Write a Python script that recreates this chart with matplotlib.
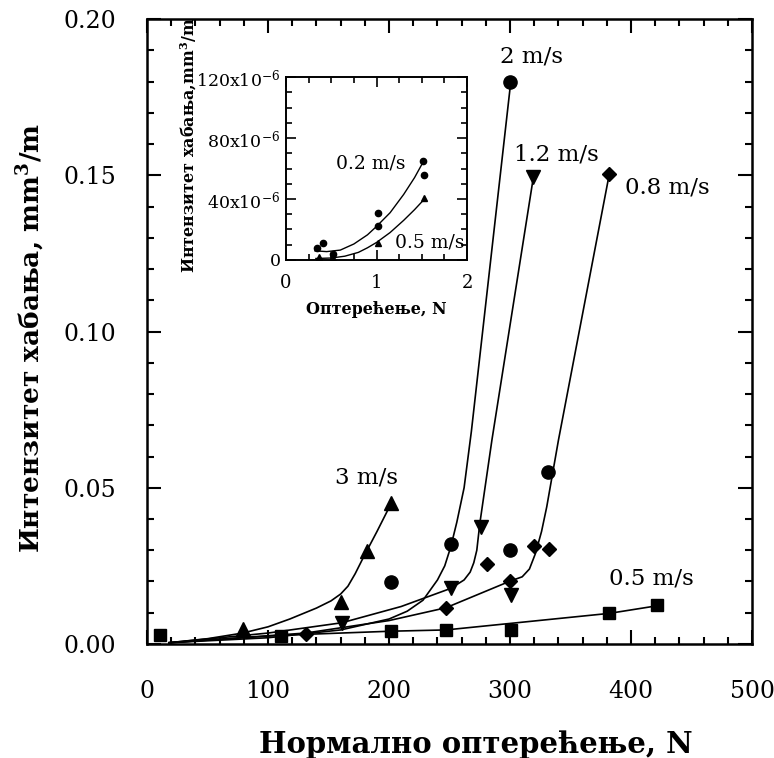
import matplotlib
matplotlib.use("Agg")
import matplotlib.pyplot as plt
from matplotlib.ticker import MultipleLocator, FixedLocator

plt.rcParams["font.family"] = ["DejaVu Serif"]
plt.rcParams["mathtext.fontset"] = "dejavuserif"

# --- main chart: measured points (load N, wear rate mm3/m) ---
sq_x = [11, 111, 202, 247, 301, 382, 421]           # 0.5 m/s
sq_y = [0.0029, 0.0026, 0.0042, 0.0045, 0.0045, 0.0098, 0.0125]
tri_x = [79, 160, 182, 202]                          # 3 m/s
tri_y = [0.0047, 0.0135, 0.0298, 0.0452]
circ_x = [202, 251, 300, 300, 331]                   # 2 m/s
circ_y = [0.0199, 0.0321, 0.0301, 0.180, 0.0549]
itri_x = [161, 251, 276, 301, 319]                   # 1.2 m/s
itri_y = [0.0066, 0.0178, 0.0375, 0.0157, 0.1495]
dia_x = [131, 247, 281, 300, 320, 332, 382]          # 0.8 m/s
dia_y = [0.0031, 0.0116, 0.0255, 0.0202, 0.0314, 0.0303, 0.1504]

# fitted curves
fit05_x = [18, 111, 202, 247, 382, 421]
fit05_y = [0.0004, 0.0028, 0.0041, 0.0045, 0.0098, 0.0122]
fit3_x = [18, 50, 79, 100, 118, 140, 152, 160, 166, 172, 179, 190, 202]
fit3_y = [0.0004, 0.0017, 0.0035, 0.0055, 0.0080, 0.0115, 0.0138, 0.0160, 0.0185, 0.0225, 0.0279, 0.0360, 0.0452]
fit2_x = [18, 100, 160, 200, 215, 228, 240, 246, 251, 256, 262, 268, 300.6]
fit2_y = [0.0004, 0.0020, 0.0045, 0.0080, 0.0105, 0.0140, 0.0205, 0.0250, 0.0311, 0.0390, 0.0500, 0.0680, 0.180]
fit12_x = [18, 100, 161, 210, 251, 262, 267, 270, 272.5, 275, 285, 319.3]
fit12_y = [0.0004, 0.0035, 0.0068, 0.0120, 0.0178, 0.0205, 0.0230, 0.0260, 0.0300, 0.0386, 0.0653, 0.1495]
fit08_x = [18, 131, 200, 247, 300.5, 310, 316, 321, 326, 330.3, 340, 382]
fit08_y = [0.0004, 0.0035, 0.0075, 0.0116, 0.0202, 0.0215, 0.0240, 0.0290, 0.0360, 0.0439, 0.0653, 0.1504]

# --- inset: load N, wear rate mm3/m (x1e-6) ---
in_c_x = [0.34, 0.41, 0.52, 1.02, 1.02, 1.51, 1.53]   # 0.2 m/s
in_c_y = [7.7, 11.4, 3.7, 31.0, 22.5, 65.0, 56.0]
in_t_x = [0.37, 0.52, 1.02, 1.53]                      # 0.5 m/s
in_t_y = [1.8, 1.5, 11.4, 40.4]
in_fc_x = [0.32, 0.45, 0.6, 0.75, 0.9, 1.0, 1.15, 1.3, 1.42, 1.51]
in_fc_y = [6.0, 5.5, 6.5, 10.5, 16.5, 22.0, 31.0, 43.0, 54.0, 63.7]
in_ft_x = [0.33, 0.5, 0.65, 0.8, 0.9, 1.0, 1.15, 1.3, 1.42, 1.53]
in_ft_y = [1.0, 1.3, 2.5, 5.0, 8.0, 11.5, 18.0, 26.0, 33.0, 40.0]

fig = plt.figure(figsize=(7.74, 7.58), dpi=100)
ax = fig.add_axes([0.19, 0.1504, 0.7817, 0.8245])

lw = 1.2
ax.plot(fit05_x, fit05_y, color="black", lw=lw)
ax.plot(fit3_x, fit3_y, color="black", lw=lw)
ax.plot(fit2_x, fit2_y, color="black", lw=lw)
ax.plot(fit12_x, fit12_y, color="black", lw=lw)
ax.plot(fit08_x, fit08_y, color="black", lw=lw)

ms = 9.5
ax.plot(sq_x, sq_y, "s", color="black", ms=ms - 0.5, ls="none")
ax.plot(tri_x, tri_y, "^", color="black", ms=ms, ls="none")
ax.plot(circ_x, circ_y, "o", color="black", ms=ms, ls="none")
ax.plot(itri_x, itri_y, "v", color="black", ms=ms, ls="none")
ax.plot(dia_x, dia_y, "D", color="black", ms=ms - 2, ls="none")

lab_fs = 16.5
ax.text(318, 0.188, "2 m/s", ha="center", va="center", fontsize=lab_fs)
ax.text(338, 0.1568, "1.2 m/s", ha="center", va="center", fontsize=lab_fs)
ax.text(430, 0.1462, "0.8 m/s", ha="center", va="center", fontsize=lab_fs)
ax.text(181, 0.0533, "3 m/s", ha="center", va="center", fontsize=lab_fs)
ax.text(417, 0.0208, "0.5 m/s", ha="center", va="center", fontsize=lab_fs)

ax.set_xlim(0, 500)
ax.set_ylim(0, 0.20)
ax.xaxis.set_major_locator(MultipleLocator(100))
ax.xaxis.set_minor_locator(MultipleLocator(20))
ax.yaxis.set_major_locator(MultipleLocator(0.05))
ax.yaxis.set_minor_locator(MultipleLocator(0.01))
ax.yaxis.set_major_formatter(plt.FormatStrFormatter("%.2f"))
ax.tick_params(which="both", direction="in", top=True, right=True, width=1.5)
ax.tick_params(which="major", length=10, labelsize=17, pad=22)
ax.tick_params(which="major", axis="x", pad=26)
ax.tick_params(which="minor", length=5)
for s in ax.spines.values():
    s.set_linewidth(1.8)

ax.set_xlabel("Нормално оптерећење, N", fontsize=21, fontweight="bold")
ax.xaxis.set_label_coords(0.544, -0.138)
ax.set_ylabel(r"Интензитет хабања, mm$^\mathbf{3}$/m", fontsize=19, fontweight="bold")
ax.yaxis.set_label_coords(-0.166, 0.49)

# inset
ins = fig.add_axes([0.3695, 0.657, 0.2339, 0.2414])
ins.plot(in_fc_x, in_fc_y, color="black", lw=1.0)
ins.plot(in_ft_x, in_ft_y, color="black", lw=1.0)
ins.plot(in_c_x, in_c_y, "o", color="black", ms=4.5, ls="none")
ins.plot(in_t_x, in_t_y, "^", color="black", ms=4, ls="none")
ins.text(0.94, 63.6, "0.2 m/s", ha="center", va="center", fontsize=13.5)
ins.text(1.59, 11.5, "0.5 m/s", ha="center", va="center", fontsize=13.5)
ins.set_xlim(0, 2)
ins.set_ylim(0, 120)
ins.xaxis.set_major_locator(MultipleLocator(1))
ins.xaxis.set_minor_locator(MultipleLocator(0.25))
ins.yaxis.set_major_locator(FixedLocator([0, 40, 80, 120]))
ins.yaxis.set_minor_locator(MultipleLocator(10))
ins.set_yticklabels(["0", r"40x10$^{-6}$", r"80x10$^{-6}$", r"120x10$^{-6}$"])
ins.tick_params(which="both", direction="in", top=True, right=True, width=1.2)
ins.tick_params(which="major", length=7, labelsize=12.5, pad=4)
ins.tick_params(which="major", axis="x", pad=10, labelsize=13)
ins.tick_params(which="minor", length=4)
for s in ins.spines.values():
    s.set_linewidth(1.4)
ins.set_xlabel("Оптерећење, N", fontsize=11.5, fontweight="bold")
ins.xaxis.set_label_coords(0.5, -0.225)
ins.set_ylabel(r"Интензитет хабања,mm$^\mathbf{3}$/m", fontsize=11.5, fontweight="bold")
ins.yaxis.set_label_coords(-0.48, 0.63)

fig.savefig("out.png", dpi=100)
